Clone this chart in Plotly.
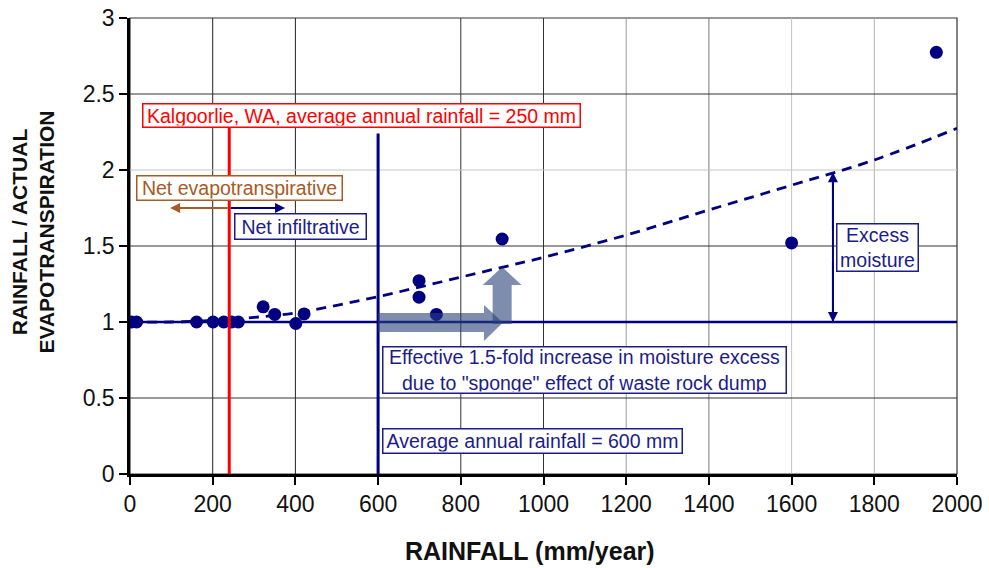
import plotly.graph_objects as go

# ---- data ----
rainfall = [4, 16, 161, 201, 227, 246, 262, 322, 350, 401, 421, 699, 699, 741, 900, 1600, 1950]
ratio = [1.0, 1.0, 1.0, 1.0, 1.0, 1.0, 1.0, 1.10, 1.05, 0.99, 1.053, 1.272, 1.163, 1.05, 1.546, 1.52, 2.774]

trend_x = [0, 100, 200, 300, 400, 500, 600, 700, 800, 900, 1000, 1200, 1400, 1600, 1800, 2000]
trend_y = [1.0, 1.0, 1.01, 1.03, 1.06, 1.11, 1.167, 1.23, 1.295, 1.36, 1.425, 1.572, 1.737, 1.90, 2.066, 2.274]

baseline_x = [0, 2000]
baseline_y = [1, 1]

kalgoorlie_rain = 240
average_rain = 600
excess_x = 1700

x_ticks = [0, 200, 400, 600, 800, 1000, 1200, 1400, 1600, 1800, 2000]
y_ticks = [0, 0.5, 1, 1.5, 2, 2.5, 3]

NAVY = "#000080"
BOXNAVY = "#1c1c8a"
RED = "#ff0000"
BROWN = "#a85a25"
FONT = "Arial, Liberation Sans, sans-serif"

fig = go.Figure()

fig.add_trace(go.Scatter(x=baseline_x, y=baseline_y, mode="lines",
                         line=dict(color=NAVY, width=2.5), showlegend=False, hoverinfo="skip"))
fig.add_trace(go.Scatter(x=trend_x, y=trend_y, mode="lines",
                         line=dict(color=NAVY, width=2.8, dash="10px,7px", shape="spline"),
                         showlegend=False, hoverinfo="skip"))
fig.add_trace(go.Scatter(x=rainfall, y=ratio, mode="markers",
                         marker=dict(color=NAVY, size=13), showlegend=False))

shapes = []
# custom grid lines (mixed tones like reference)
vgrid = {200: "#222", 400: "#222", 800: "#333", 1000: "#333", 1200: "#999",
         1400: "#777", 1600: "#c4c4c4", 1800: "#b0b0b0"}
for xv, c in vgrid.items():
    shapes.append(dict(type="line", xref="x", yref="y", x0=xv, x1=xv, y0=0, y1=3,
                       line=dict(color=c, width=1), layer="below"))
hgrid = {0.5: "#333", 1.5: "#333", 2: "#c4c4c4", 2.5: "#333"}
for yv, c in hgrid.items():
    shapes.append(dict(type="line", xref="x", yref="y", x0=0, x1=2000, y0=yv, y1=yv,
                       line=dict(color=c, width=1), layer="below"))
# border of plot area
shapes.append(dict(type="rect", xref="paper", yref="paper", x0=0, x1=1, y0=0, y1=1,
                   line=dict(color="#333", width=1.2), layer="below"))
# vertical reference lines
shapes.append(dict(type="line", xref="x", yref="y", x0=kalgoorlie_rain, x1=kalgoorlie_rain,
                   y0=0, y1=2.28, line=dict(color=RED, width=3)))
shapes.append(dict(type="line", xref="x", yref="y", x0=average_rain, x1=average_rain,
                   y0=0, y1=2.24, line=dict(color=NAVY, width=3)))
# block arrows (translucent)
ARROWFILL = "rgba(40,65,120,0.6)"
shapes.append(dict(type="path", xref="x", yref="y",
                   path="M 600 0.934 L 856 0.934 L 856 0.875 L 902 0.997 L 856 1.112 L 856 1.059 L 600 1.059 Z",
                   fillcolor=ARROWFILL, line=dict(width=0)))
shapes.append(dict(type="path", xref="x", yref="y",
                   path="M 877 0.987 L 877 1.243 L 853 1.243 L 900 1.362 L 947 1.243 L 923 1.243 L 923 0.987 Z",
                   fillcolor=ARROWFILL, line=dict(width=0)))
# excess moisture double arrow shaft
shapes.append(dict(type="line", xref="x", yref="y", x0=excess_x, x1=excess_x, y0=1.0, y1=1.985,
                   line=dict(color=NAVY, width=2)))

annotations = []


def box(text, x, y, color, w, h, size=19.5):
    annotations.append(dict(text=text, x=x, y=y, xref="x", yref="y", showarrow=False,
                            font=dict(family=FONT, size=size, color=color),
                            bordercolor=color, borderwidth=1.5, borderpad=1,
                            bgcolor="white", width=w, height=h, align="center",
                            xanchor="center", yanchor="middle"))


box("Kalgoorlie, WA, average annual rainfall = 250 mm", 560, 2.356, RED, 434, 20)
box("Net evapotranspirative", 266, 1.88, BROWN, 202, 21)
box("Net infiltrative", 413, 1.628, BOXNAVY, 128, 22)
box("Effective 1.5-fold increase in moisture excess<br>due to \"sponge\" effect of waste rock dump",
    1100, 0.685, BOXNAVY, 400, 43)
box("Average annual rainfall = 600 mm", 974, 0.22, BOXNAVY, 296, 21)
box("Excess<br>moisture", 1808, 1.493, BOXNAVY, 78, 44)

# small arrows
annotations.append(dict(x=97, y=1.75, ax=kalgoorlie_rain, ay=1.75, xref="x", yref="y",
                        axref="x", ayref="y", text="", showarrow=True, arrowhead=2,
                        arrowsize=1, arrowwidth=2, arrowcolor=BROWN))
annotations.append(dict(x=375, y=1.75, ax=kalgoorlie_rain, ay=1.75, xref="x", yref="y",
                        axref="x", ayref="y", text="", showarrow=True, arrowhead=2,
                        arrowsize=1, arrowwidth=2, arrowcolor=NAVY))
annotations.append(dict(x=excess_x, y=1.985, ax=excess_x, ay=1.6, xref="x", yref="y",
                        axref="x", ayref="y", text="", showarrow=True, arrowhead=2,
                        arrowsize=1, arrowwidth=2, arrowcolor=NAVY))
annotations.append(dict(x=excess_x, y=1.0, ax=excess_x, ay=1.4, xref="x", yref="y",
                        axref="x", ayref="y", text="", showarrow=True, arrowhead=2,
                        arrowsize=1, arrowwidth=2, arrowcolor=NAVY))

# axis titles
annotations.append(dict(text="<b>RAINFALL / ACTUAL<br>EVAPOTRANSPIRATION</b>", xref="paper", yref="paper",
                        x=-0.117, y=0.53, textangle=-90, showarrow=False,
                        font=dict(family=FONT, size=21, color="#111"),
                        xanchor="center", yanchor="middle"))
annotations.append(dict(text="<b>RAINFALL (mm/year)</b>", xref="paper", yref="paper",
                        x=0.484, y=-0.168, showarrow=False,
                        font=dict(family=FONT, size=25, color="#111"),
                        xanchor="center", yanchor="middle"))

fig.update_layout(
    width=989, height=568,
    margin=dict(l=130, r=32, t=18, b=94, autoexpand=False),
    paper_bgcolor="white", plot_bgcolor="white",
    font=dict(family=FONT, color="#111"),
    shapes=shapes, annotations=annotations,
    xaxis=dict(range=[0, 2000], tickvals=x_ticks, ticktext=[str(v) for v in x_ticks],
               automargin=False,
               showgrid=False, zeroline=False, showline=True, linecolor="black", linewidth=2.5,
               ticks="outside", ticklen=8, tickwidth=2, tickcolor="black",
               tickfont=dict(family=FONT, size=23, color="#111")),
    yaxis=dict(range=[0, 3], tickvals=y_ticks, ticktext=["0", "0.5", "1", "1.5", "2", "2.5", "3"],
               automargin=False,
               showgrid=False, zeroline=False, showline=True, linecolor="black", linewidth=2.5,
               ticks="outside", ticklen=8, tickwidth=2, tickcolor="black",
               tickfont=dict(family=FONT, size=23, color="#111")),
)

fig.write_html("out.html")
